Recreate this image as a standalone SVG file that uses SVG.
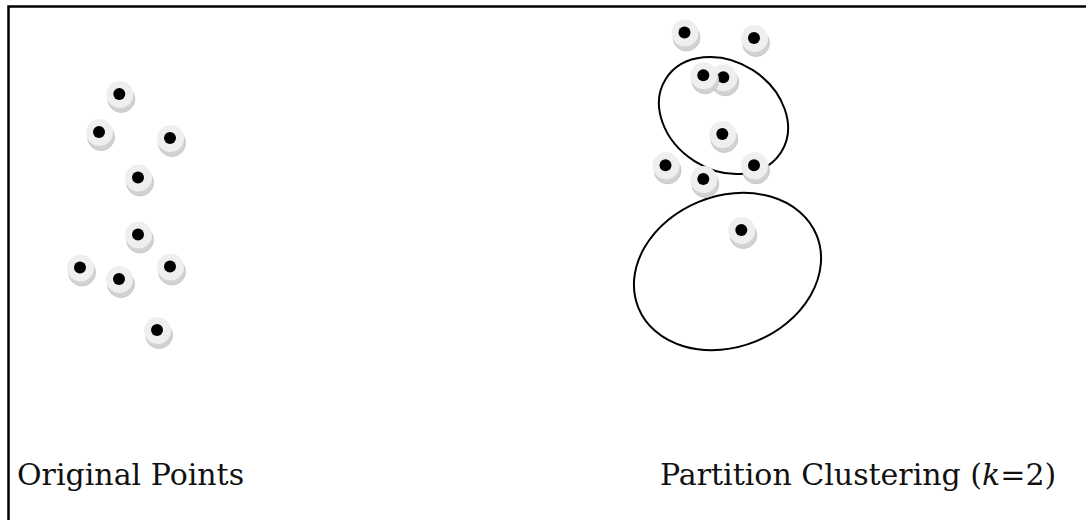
<svg xmlns="http://www.w3.org/2000/svg" xmlns:xlink="http://www.w3.org/1999/xlink" width="1086" height="520" viewBox="0 0 1086 520">
<style>
.frame{fill:none;stroke:#000;stroke-width:2.5}
.cl{fill:none;stroke:#000;stroke-width:2}
.side{fill:#d2d2d2;stroke:#c2c2c2;stroke-width:0.8}
.top{fill:#efefef}
.dot{fill:#000}
.lbl{font-family:"DejaVu Serif",serif;font-size:30px;fill:#111}
</style>
<defs>
<g id="pt">
<circle class="side" cx="2" cy="5" r="13.5"/>
<circle class="top" cx="0.5" cy="0.5" r="13.5"/>
<circle class="dot" cx="0" cy="0" r="6"/>
</g>
</defs>
<rect class="frame" x="8.5" y="6.5" width="1120" height="560"/>
<g id="clusters">
<ellipse class="cl" cx="723.5" cy="115.5" rx="68.3" ry="54" transform="rotate(32.5 723.5 115.5)"/>
<ellipse class="cl" cx="727.5" cy="271.5" rx="96.2" ry="75.4" transform="rotate(-22 727.5 271.5)"/>
</g>
<g id="p1"><use xlink:href="#pt" x="119.3" y="94"/></g>
<g id="p2"><use xlink:href="#pt" x="99" y="132"/></g>
<g id="p3"><use xlink:href="#pt" x="170" y="138"/></g>
<g id="p4"><use xlink:href="#pt" x="138" y="177.5"/></g>
<g id="p5"><use xlink:href="#pt" x="138" y="234.5"/></g>
<g id="p6"><use xlink:href="#pt" x="80" y="267.5"/></g>
<g id="p7"><use xlink:href="#pt" x="119" y="279"/></g>
<g id="p8"><use xlink:href="#pt" x="170" y="266.5"/></g>
<g id="p9"><use xlink:href="#pt" x="157" y="330"/></g>
<g id="q1"><use xlink:href="#pt" x="684.5" y="32.5"/></g>
<g id="q2"><use xlink:href="#pt" x="754" y="38"/></g>
<g id="q4"><use xlink:href="#pt" x="723.3" y="77.3"/></g>
<g id="q3"><use xlink:href="#pt" x="703.3" y="75.3"/></g>
<g id="q5"><use xlink:href="#pt" x="722.3" y="134"/></g>
<g id="q6"><use xlink:href="#pt" x="665.5" y="165.3"/></g>
<g id="q7"><use xlink:href="#pt" x="754" y="165.3"/></g>
<g id="q8"><use xlink:href="#pt" x="703.3" y="179"/></g>
<g id="q9"><use xlink:href="#pt" x="741.3" y="230"/></g>
<text class="lbl" x="17" y="485">Original Points</text>
<text class="lbl" x="660" y="485">Partition Clustering (<tspan font-style="italic">k</tspan>=2)</text>
</svg>
